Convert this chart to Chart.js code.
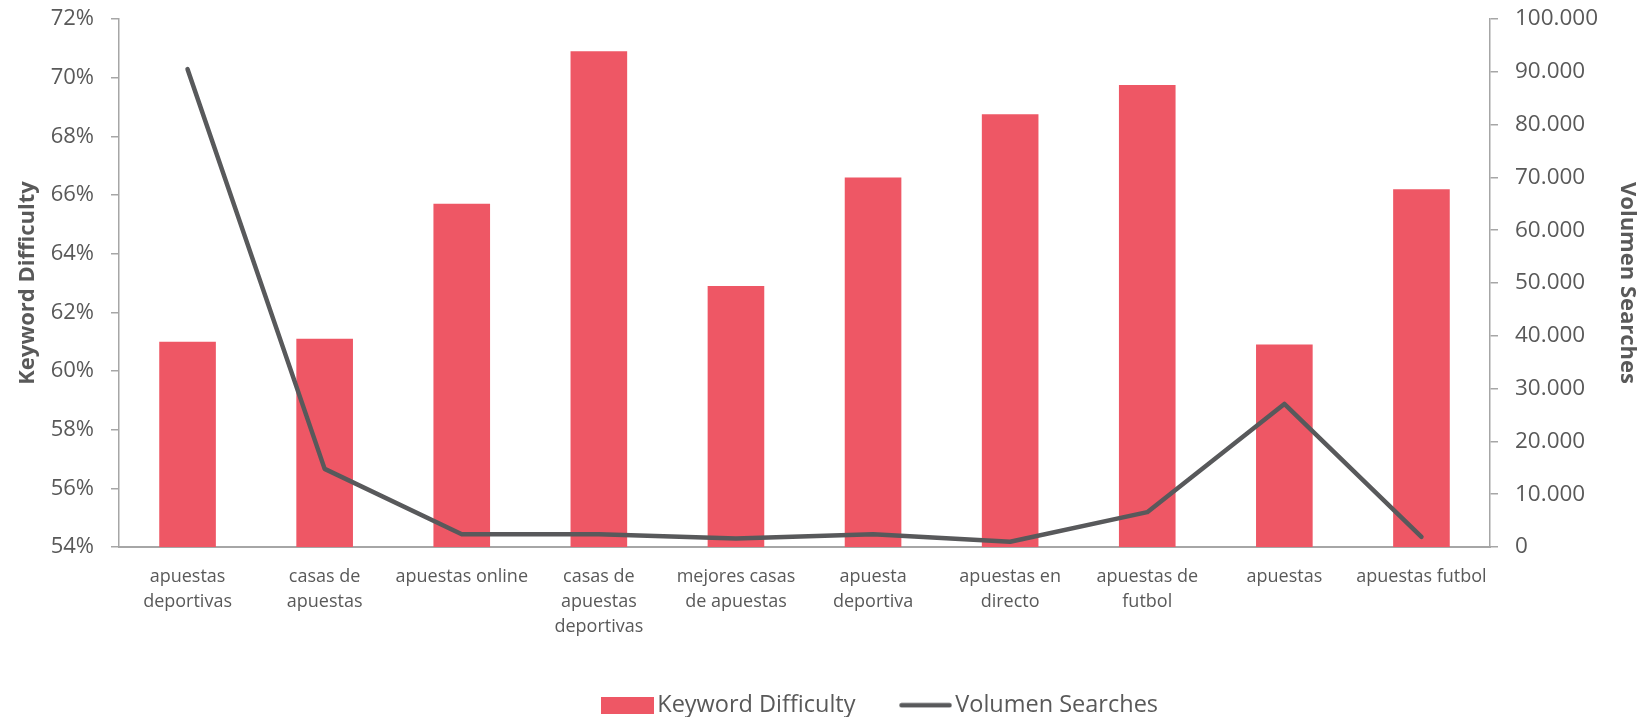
<!DOCTYPE html>
<html>
<head>
<meta charset="utf-8">
<script src="https://cdn.jsdelivr.net/npm/chart.js@4"></script>
<style>
html,body{margin:0;padding:0;background:#fff;}
#wrap{width:1640px;height:717px;position:relative;}
</style>
</head>
<body>
<div id="wrap"><canvas id="c" width="1640" height="717"></canvas></div>
<script>
const categories = [
  ['apuestas','deportivas'],
  ['casas de','apuestas'],
  'apuestas online',
  ['casas de','apuestas','deportivas'],
  ['mejores casas','de apuestas'],
  ['apuesta','deportiva'],
  ['apuestas en','directo'],
  ['apuestas de','futbol'],
  'apuestas',
  'apuestas futbol'
];
const keywordDifficulty = [61.0, 61.1, 65.7, 70.9, 62.9, 66.6, 68.75, 69.75, 60.9, 66.2];
const volumenSearches = [90500, 14800, 2400, 2400, 1600, 2400, 1000, 6600, 27100, 1900];
const leftTicks = {min: 54, max: 72, step: 2};
const rightTicks = {min: 0, max: 100000, step: 10000};

const TXT = '#595959';
const AXIS = '#a6a6a6';
const BAR = '#EE5765';
const LINE = '#58595b';
const FONT = "'Open Sans', sans-serif";

function fmtThousands(v){
  return String(Math.round(v)).replace(/\B(?=(\d{3})+(?!\d))/g, '.');
}

// legend icons
function makeIcon(kind){
  const c = document.createElement('canvas');
  c.width = 53; c.height = kind === 'bar' ? 17 : 6;
  const x = c.getContext('2d');
  if (kind === 'bar') {
    x.fillStyle = BAR; x.fillRect(0, 0, 53, 17);
  } else {
    x.strokeStyle = LINE; x.lineWidth = 4.5; x.lineCap = 'round';
    x.beginPath(); x.moveTo(2.5, 3); x.lineTo(50.5, 3); x.stroke();
  }
  return c;
}
const barIcon = makeIcon('bar');
const lineIcon = makeIcon('line');

const LEG_PAD = 52;
const legendShift = {
  id: 'legendShift',
  afterLayout(chart){
    const lg = chart.legend;
    if (!lg || !lg.lineWidths) return;
    const startX = (lg.left + LEG_PAD + lg.right - lg.lineWidths[0]) / 2;
    const dx = 609.5 - startX;
    lg.left += dx; lg.right += dx;
  }
};

new Chart(document.getElementById('c'), {
  data: {
    labels: categories,
    datasets: [
      {
        type: 'bar',
        label: 'Keyword Difficulty',
        data: keywordDifficulty,
        backgroundColor: BAR,
        borderWidth: 0,
        yAxisID: 'y',
        barPercentage: 0.413,
        categoryPercentage: 1.0,
        order: 2,
        pointStyle: barIcon
      },
      {
        type: 'line',
        label: 'Volumen Searches',
        data: volumenSearches,
        borderColor: LINE,
        backgroundColor: LINE,
        borderWidth: 4.5,
        borderCapStyle: 'round',
        borderJoinStyle: 'round',
        pointRadius: 0,
        tension: 0,
        yAxisID: 'y1',
        order: 1,
        pointStyle: lineIcon
      }
    ]
  },
  plugins: [legendShift],
  options: {
    responsive: false,
    animation: false,
    layout: {padding: {top: 0, bottom: -10, left: 0, right: 0}},
    plugins: {
      tooltip: {enabled: false},
      legend: {
        position: 'bottom',
        labels: {
          usePointStyle: true,
          pointStyleWidth: 36,
          boxHeight: 17,
          padding: LEG_PAD,
          color: TXT,
          font: {family: FONT, size: 23.5},
          sort: (a, b) => a.datasetIndex - b.datasetIndex
        }
      }
    },
    scales: {
      x: {
        grid: {display: true, drawOnChartArea: false, drawTicks: false},
        border: {color: AXIS, width: 2},
        ticks: {
          color: TXT,
          font: {family: FONT, size: 18, lineHeight: 1.4},
          maxRotation: 0, minRotation: 0, autoSkip: false,
          padding: 17
        },
        afterFit: (s) => { s.height = 94.5; }
      },
      y: {
        position: 'left',
        min: leftTicks.min, max: leftTicks.max,
        grid: {display: true, drawOnChartArea: false, drawTicks: true, tickLength: 8, color: AXIS, lineWidth: 1.5},
        border: {color: AXIS, width: 1.5},
        ticks: {
          stepSize: leftTicks.step,
          color: TXT,
          font: {family: FONT, size: 22},
          padding: 17,
          callback: (v) => v + '%'
        },
        title: {
          display: true, text: 'Keyword Difficulty', color: TXT,
          font: {family: FONT, size: 22, weight: 'bold'},
          padding: {top: 15, bottom: 0}
        },
        afterFit: (s) => { s.width = 119; s.paddingTop = 19; s.paddingBottom = 13; }
      },
      y1: {
        position: 'right',
        min: rightTicks.min, max: rightTicks.max,
        grid: {display: true, drawOnChartArea: false, drawTicks: true, tickLength: 8, color: AXIS, lineWidth: 1.5},
        border: {color: AXIS, width: 1.5},
        ticks: {
          stepSize: rightTicks.step,
          color: TXT,
          font: {family: FONT, size: 22.5},
          padding: 17,
          callback: (v) => fmtThousands(v)
        },
        title: {
          display: true, text: 'Volumen Searches', color: TXT,
          font: {family: FONT, size: 22, weight: 'bold'},
          padding: {top: 0, bottom: 0}
        },
        afterFit: (s) => { s.width = 150; s.paddingTop = 19; s.paddingBottom = 13; }
      }
    }
  }
});
</script>
</body>
</html>
